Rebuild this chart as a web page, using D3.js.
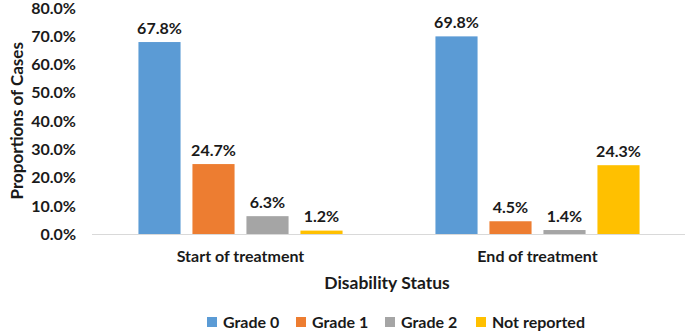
<!DOCTYPE html>
<html><head><meta charset="utf-8">
<script src="https://cdn.jsdelivr.net/npm/d3@7"></script>
<style>body{margin:0;background:#fff}svg{display:block}text{font-family:Lato,"Open Sans",sans-serif;font-weight:bold;fill:#1a1a1a}</style>
</head><body><svg id="c" width="685" height="332"></svg>
<script>
const categories = ["Start of treatment", "End of treatment"];
const seriesNames = ["Grade 0", "Grade 1", "Grade 2", "Not reported"];
const grade0 = [67.8, 69.8];
const grade1 = [24.7, 4.5];
const grade2 = [6.3, 1.4];
const notReported = [1.2, 24.3];
const yTicks = [0, 10, 20, 30, 40, 50, 60, 70, 80];
const colors = ["#5B9BD5", "#ED7D31", "#A5A5A5", "#FFC000"];
const seriesVals = [grade0, grade1, grade2, notReported];

const svg = d3.select("#c");
const mLeft = 92, mRight = 686, mTop = 7.5, mBottom = 234;
const fs = "16px";
const x0 = d3.scaleBand().domain(categories).range([mLeft, mRight]).paddingInner(0).paddingOuter(0);
const x1 = d3.scaleBand().domain(seriesNames).range([0, x0.bandwidth()]).paddingInner(0.22).paddingOuter(0.86);
const y = d3.scaleLinear().domain([0, 80]).range([mBottom, mTop]);

// y axis labels
const yAxis = d3.axisLeft(y).tickValues(yTicks).tickFormat(d => d.toFixed(1) + "%").tickSize(0).tickPadding(0);
const ya = svg.append("g").attr("transform", `translate(${mLeft - 16},0)`).call(yAxis);
ya.select(".domain").remove();
ya.selectAll("text").attr("dy", null).attr("y", 5.5).style("font-size", fs).style("font-family", "Lato").style("font-weight", "bold").attr("fill", "#1a1a1a");

// bars
categories.forEach((c, ci) => {
  seriesNames.forEach((s, si) => {
    const v = seriesVals[si][ci];
    const bx = x0(c) + x1(s);
    svg.append("rect").attr("x", bx).attr("y", y(v)).attr("width", x1.bandwidth()).attr("height", mBottom - y(v))
      .attr("fill", colors[si]);
    svg.append("text").attr("x", bx + x1.bandwidth() / 2).attr("y", y(v) - 8.5)
      .attr("text-anchor", "middle").style("font-size", fs).text(v.toFixed(1) + "%");
  });
});

// x axis
svg.append("line").attr("x1", mLeft).attr("x2", mRight).attr("y1", mBottom + 0.5).attr("y2", mBottom + 0.5)
  .attr("stroke", "#d9d9d9").attr("stroke-width", 1);
const xAxis = d3.axisBottom(x0).tickSize(0).tickPadding(0);
const xa = svg.append("g").attr("transform", `translate(0,${mBottom})`).call(xAxis);
xa.select(".domain").remove();
xa.selectAll("text").attr("dy", null).attr("y", 28).style("font-size", fs).style("font-family", "Lato").style("font-weight", "bold").attr("fill", "#1a1a1a");

// axis titles
svg.append("text").attr("x", (mLeft + mRight) / 2 - 2).attr("y", 289).attr("text-anchor", "middle")
  .style("font-size", "17.5px").text("Disability Status");
svg.append("text").attr("transform", `translate(23,${(mTop + mBottom) / 2}) rotate(-90)`).attr("text-anchor", "middle")
  .style("font-size", "17px").text("Proportions of Cases");

// legend
const legX = [207, 296, 385, 476];
seriesNames.forEach((s, i) => {
  svg.append("rect").attr("x", legX[i]).attr("y", 317).attr("width", 10).attr("height", 10).attr("fill", colors[i]);
  svg.append("text").attr("x", legX[i] + 16).attr("y", 328).style("font-size", fs).text(s);
});
</script></body></html>
